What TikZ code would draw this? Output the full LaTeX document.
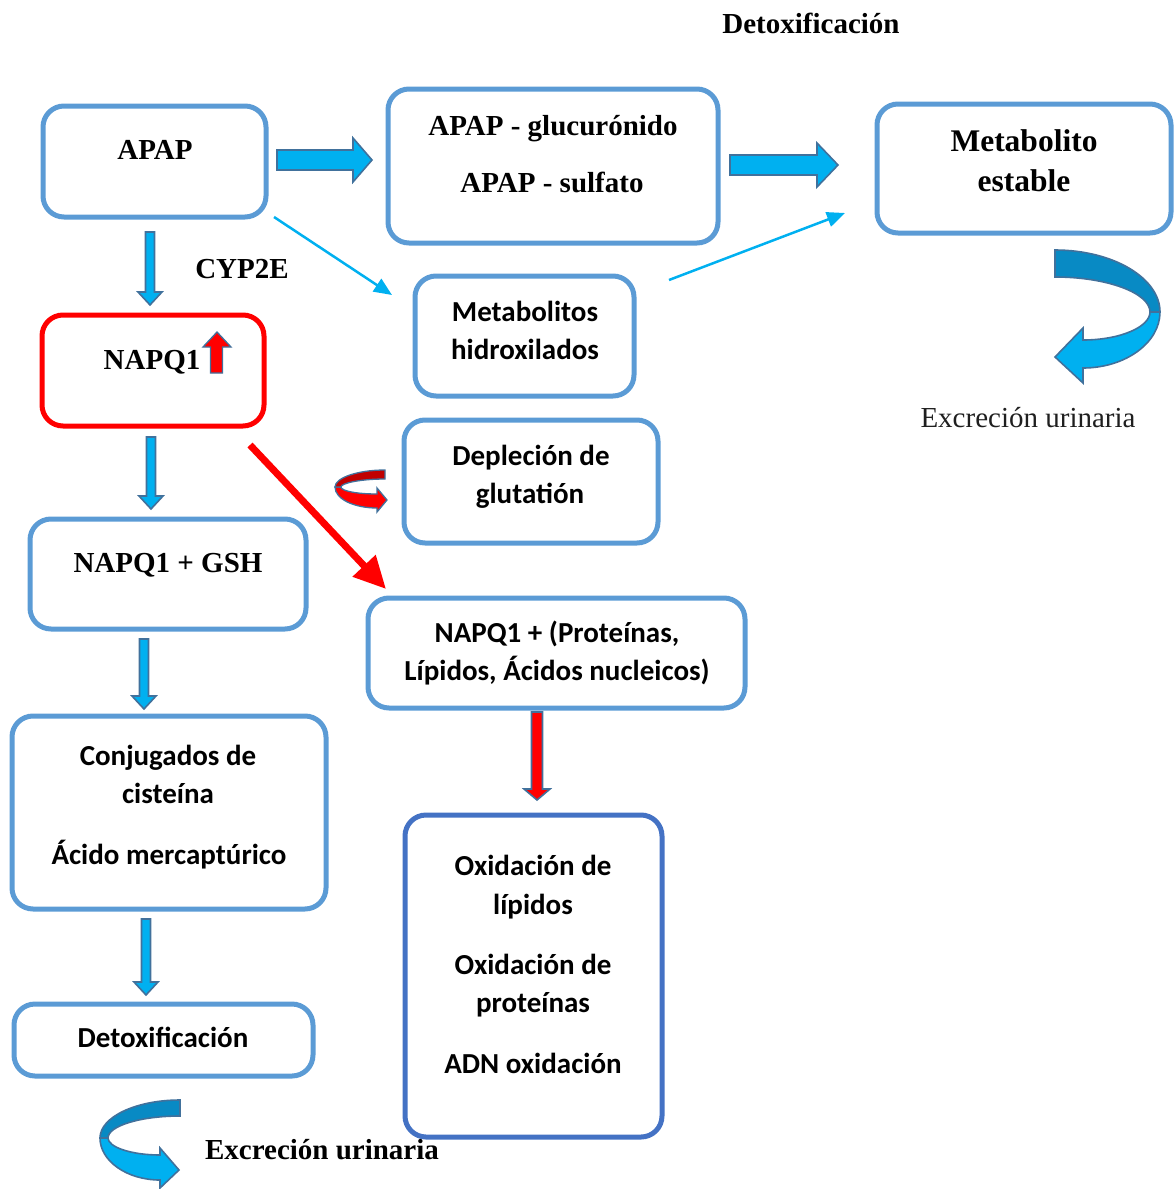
\documentclass[tikz,border=0pt]{standalone}
\usepackage{fontspec}
\setmainfont{Liberation Serif}
\newfontfamily\carl{Carlito}
\usetikzlibrary{arrows.meta}
\definecolor{boxblue}{RGB}{91,155,213}
\definecolor{oxblue}{RGB}{68,114,196}
\definecolor{arrfill}{RGB}{0,176,240}
\definecolor{arrline}{RGB}{65,113,156}
\definecolor{curldark}{RGB}{8,138,196}
\definecolor{reddark}{RGB}{192,0,0}
\newcommand\bdown[4]{%
  \draw[blk, fill=#4] (#1-4.5,#2) -- (#1+4.5,#2) -- (#1+4.5,#3-13) -- (#1+12,#3-13) -- (#1,#3) -- (#1-12,#3-13) -- (#1-4.5,#3-13) -- cycle;}
\newcommand\bright[4]{%
  \draw[blk, fill=arrfill] (#1,#3-10) -- (#2-#4,#3-10) -- (#2-#4,#3-22) -- (#2,#3) -- (#2-#4,#3+22) -- (#2-#4,#3+10) -- (#1,#3+10) -- cycle;}
\tikzset{
  box/.style={draw=boxblue, line width=5pt, rounded corners=21pt, inner sep=0pt},
  blk/.style={draw=arrline, line width=1.6pt, line join=miter},
  ser/.style={inner sep=0pt, text height=19pt, text depth=0pt, font=\fontsize{29}{34}\selectfont\bfseries},
  serbig/.style={inner sep=0pt, text height=21pt, text depth=0pt, font=\fontsize{31.5}{36}\selectfont\bfseries},
  serreg/.style={inner sep=0pt, text height=19pt, text depth=0pt, font=\fontsize{29}{34}\selectfont, text=black!88},
  san/.style={inner sep=0pt, text height=19pt, text depth=0pt, font=\carl\fontsize{29}{34}\selectfont\bfseries},
  thin/.style={draw=arrfill, line width=2.5pt, -{Triangle[length=18pt,width=15pt]}},
}
\begin{document}
\begin{tikzpicture}[x=1pt,y=-1pt]
\useasboundingbox (0,0) rectangle (1175,1189);
% boxes
\node[box, minimum width=223pt, minimum height=111pt] (apap) at (154.5,161.5) {};
\node[box, minimum width=330pt, minimum height=154pt] (glu) at (553,166) {};
\node[box, minimum width=294pt, minimum height=129pt] (met) at (1024,168.5) {};
\node[box, minimum width=219pt, minimum height=120pt] (hid) at (524.5,336) {};
\node[box, draw=red, minimum width=222pt, minimum height=111pt] (napq) at (153,370.5) {};
\node[box, minimum width=254pt, minimum height=123pt] (dep) at (531,481.5) {};
\node[box, minimum width=276pt, minimum height=110pt] (gsh) at (168,574) {};
\node[box, minimum width=377pt, minimum height=110pt] (prot) at (556.5,653) {};
\node[box, minimum width=314pt, minimum height=193pt] (conj) at (169,812.5) {};
\node[box, draw=oxblue, minimum width=257pt, minimum height=322pt] (oxid) at (533.5,976) {};
\node[box, minimum width=299pt, minimum height=72pt] (detox) at (163.5,1040) {};
% texts
\node[ser] (t1) at (811,24) {Detoxificación};
\node[ser] (t2) at (155,150) {APAP};
\node[ser] (t3) at (553,126) {APAP - glucurónido};
\node[ser] (t4) at (552,183) {APAP - sulfato};
\node[serbig] (t5) at (1024,141) {Metabolito};
\node[serbig] (t6) at (1024,181) {estable};
\node[ser] (t7) at (242,269) {CYP2E};
\node[san] (t8) at (525,312) {Metabolitos};
\node[san] (t9) at (525,350) {hidroxilados};
\node[ser] (t10) at (152,360) {NAPQ1};
\node[serreg] (t11) at (1028,418) {Excreción urinaria};
\node[san] (t12) at (531,456) {Depleción de};
\node[san] (t13) at (530,494) {glutatión};
\node[ser] (t14) at (168,563) {NAPQ1 + GSH};
\node[san] (t15) at (557,633) {NAPQ1 + (Proteínas,};
\node[san] (t16) at (557,671) {Lípidos, Ácidos nucleicos)};
\node[san] (t17) at (168,756) {Conjugados de};
\node[san] (t18) at (168,794) {cisteína};
\node[san] (t19) at (169,855) {Ácido mercaptúrico};
\node[san] (t20) at (533,866) {Oxidación de};
\node[san] (t21) at (533,905) {lípidos};
\node[san] (t22) at (533,965) {Oxidación de};
\node[san] (t23) at (533,1003) {proteínas};
\node[san] (t24) at (533,1064) {ADN oxidación};
\node[san] (t25) at (163,1038) {Detoxificación};
\node[ser] (t26) at (322,1150) {Excreción urinaria};
% block arrows
\bright{277}{372}{160}{19}
\bright{730}{838}{165}{21}
\bdown{150}{232}{305}{arrfill}
\bdown{151}{437}{509}{arrfill}
\bdown{144}{639}{709}{arrfill}
\bdown{146}{919}{995}{arrfill}
\draw[blk, fill=red] (531.5,712) -- (542.5,712) -- (542.5,789) -- (550,789) -- (537,800) -- (524,789) -- (531.5,789) -- cycle;
% red up arrow in NAPQ1
\draw[blk, fill=red, line width=1.3pt] (210.5,373) -- (222.5,373) -- (222.5,347) -- (231,347) -- (217,332) -- (203,347) -- (210.5,347) -- cycle;
% thin arrows
\coordinate (a1) at (274,217);
\coordinate (a2) at (392,295);
\coordinate (b1) at (669,280);
\coordinate (b2) at (845,213);
\draw[thin] (a1) -- (a2);
\draw[thin] (b1) -- (b2);
\coordinate (r1) at (250,445);
\coordinate (r2) at (386,589);
\draw[draw=red, line width=7pt, -{Triangle[length=32pt,width=30pt]}] (r1) -- (r2);
% right curl
\draw[blk, fill=arrfill] (1160,312) .. controls (1160,343) and (1125,368) .. (1083,368) -- (1083,383) -- (1055,357) -- (1083,328) -- (1083,340) .. controls (1120,340) and (1150,327) .. (1150,312) -- cycle;
\draw[blk, fill=curldark] (1055,250) .. controls (1113,250) and (1160,278) .. (1160,312) -- (1150,312) .. controls (1150,293) and (1107,277) .. (1055,277) -- cycle;
% bottom-left curl
\draw[blk, fill=arrfill] (100,1138) .. controls (100,1161) and (127,1180) .. (160,1180) -- (160,1188) -- (179,1170) -- (160,1148) -- (160,1155) .. controls (131,1155) and (108,1147) .. (108,1138) -- cycle;
\draw[blk, fill=curldark] (180,1100) .. controls (136,1100) and (100,1117) .. (100,1138) -- (108,1138) .. controls (108,1126) and (140,1116) .. (180,1116) -- cycle;
% small red curl
\draw[blk, fill=red, line width=1.3pt] (335,487) .. controls (335,499) and (354,508) .. (377,508) -- (377,512) -- (387,500) -- (377,488) -- (377,494) .. controls (357,494) and (341,491) .. (341,487) -- cycle;
\draw[blk, fill=reddark, line width=1.3pt] (385,470) .. controls (357,470) and (335,478) .. (335,487) -- (341,487) .. controls (341,483) and (361,479) .. (385,479) -- cycle;
\end{tikzpicture}
\end{document}
